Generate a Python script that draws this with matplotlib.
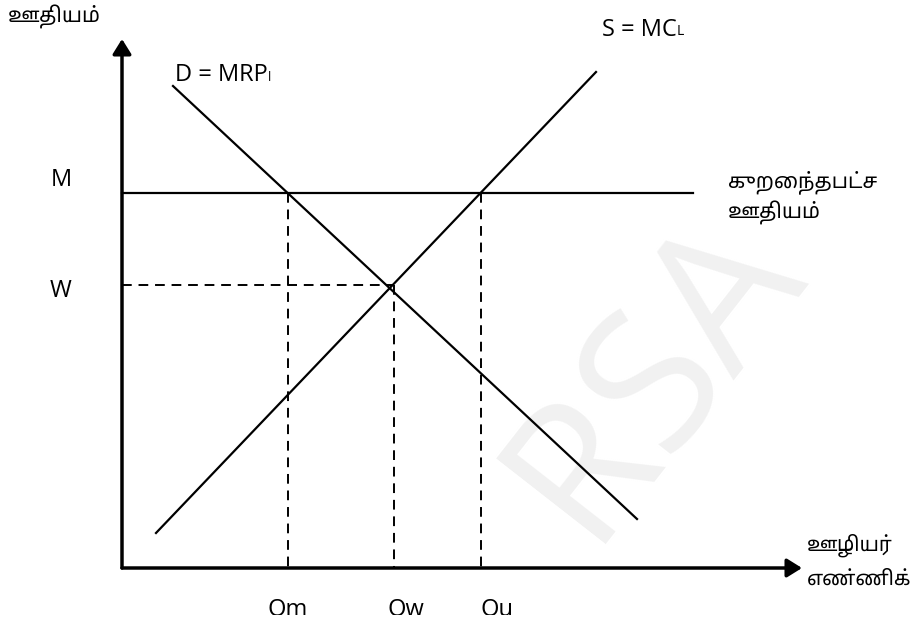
import matplotlib
matplotlib.use('Agg')
import matplotlib.pyplot as plt
from matplotlib.transforms import Bbox

# everything is laid out in pixel units of the 910x627 picture
axis_origin = (122, 568)
y_axis_top = 39
x_axis_end = 802

demand_x = [173, 637]
demand_y = [86, 519]
supply_x = [156, 596]
supply_y = [533, 72]

min_wage_y = 193
min_wage_x = [122, 693]
wage_y = 285
wage_x = [122, 392]

# dashed verticals: (x, top y)
q_lines_x = [288, 394, 481]
q_lines_top = [193, 285, 193]
q_labels = ['Qm', 'Qw', 'Qu']
q_label_x = [288, 406, 497]

y_ticks = ['M', 'W']
y_tick_pos = [180, 291]

tamil = ['Noto Sans Tamil', 'Lohit Tamil', 'Noto Sans', 'DejaVu Sans']
latin = ['Open Sans', 'DejaVu Sans']

fig = plt.figure(figsize=(9.1, 6.27), dpi=100)
ax = fig.add_axes([0, 0, 1, 1])
ax.set_xlim(0, 910)
ax.set_ylim(627, 0)
ax.axis('off')

# faint watermark
ax.text(655, 375, 'RSA', fontsize=140, color='#f1f1f1', rotation=52,
        ha='center', va='center', family=latin, zorder=0)

# axes with arrows
arrow = dict(arrowstyle='-|>,head_length=0.45,head_width=0.28',
             lw=2.5, color='black', mutation_scale=20, shrinkA=0, shrinkB=0)
ax.annotate('', xy=(axis_origin[0], y_axis_top), xytext=axis_origin, arrowprops=arrow)
ax.annotate('', xy=(x_axis_end, axis_origin[1]), xytext=axis_origin, arrowprops=arrow)

ax.plot(demand_x, demand_y, color='black', lw=1.6)
ax.plot(supply_x, supply_y, color='black', lw=1.6)
ax.plot(min_wage_x, [min_wage_y, min_wage_y], color='black', lw=1.6)
ax.plot(wage_x, [wage_y, wage_y], color='black', lw=1.4, ls=(0, (5, 3.5)))
for x, top in zip(q_lines_x, q_lines_top):
    ax.plot([x, x], [top, axis_origin[1]], color='black', lw=1.4, ls=(0, (5, 3.5)))

# labels
ax.text(8, 17, 'ஊதியம்', fontsize=15, family=tamil, va='center', ha='left')

d_lab = ax.text(175, 75, 'D = MRP', fontsize=17, family=latin, va='center')
ax.annotate('l', xy=(1.0, 0.14), xycoords=d_lab, fontsize=9, family=latin, va='bottom')
s_lab = ax.text(602, 30, 'S = MC', fontsize=17, family=latin, va='center')
ax.annotate('L', xy=(1.0, 0.14), xycoords=s_lab, fontsize=10, family=latin, va='bottom')

for lab, y in zip(y_ticks, y_tick_pos):
    ax.text(61, y, lab, fontsize=17, family=latin, ha='center', va='center')
ax.text(728, 182, 'குறைந்தபட்ச', fontsize=15, family=tamil, va='center')
ax.text(728, 213, 'ஊதியம்', fontsize=15, family=tamil, va='center')
ax.text(807, 545, 'ஊழியர்', fontsize=14.5, family=tamil, va='center')
ax.text(807, 580, 'எண்ணிக்', fontsize=14.5, family=tamil, va='center')

# the bottom labels are cut off in the original (clip box in display pixels)
clip = Bbox.from_extents(0, 627 - 615, 910, 627)
for lab, x in zip(q_labels, q_label_x):
    t = ax.text(x, 598, lab, fontsize=17, family=latin, ha='center', va='top')
    t.set_clip_on(True)
    t.set_clip_box(clip)

fig.savefig('out.png', dpi=100)
